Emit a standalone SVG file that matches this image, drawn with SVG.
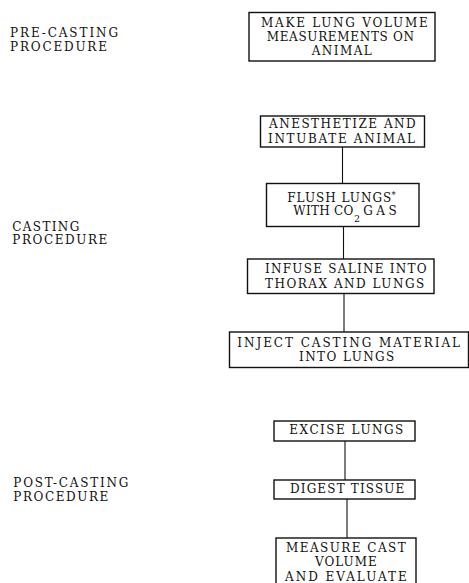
<svg xmlns="http://www.w3.org/2000/svg" width="469" height="583" viewBox="0 0 469 583">
<style>
.bx{fill:#fff;stroke:#111;stroke-width:1.4}
.ln{stroke:#111;stroke-width:1.1;fill:none}
text{font-family:"DejaVu Serif","Liberation Serif",serif;font-size:12px;fill:#111}
</style>
<rect width="469" height="583" fill="#fff"/>
<g id="labels">
<text x="10" y="36.7" textLength="108" lengthAdjust="spacing">PRE-CASTING</text>
<text x="10" y="50.7" textLength="97" lengthAdjust="spacing">PROCEDURE</text>
<text x="12.3" y="230.5" textLength="67" lengthAdjust="spacing">CASTING</text>
<text x="12.3" y="244" textLength="95" lengthAdjust="spacing">PROCEDURE</text>
<text x="13.3" y="487.3" textLength="115" lengthAdjust="spacing">POST-CASTING</text>
<text x="13.3" y="500.7" textLength="95" lengthAdjust="spacing">PROCEDURE</text>
</g>
<g id="connectors">
<line class="ln" x1="342.5" y1="147" x2="342.5" y2="183.5"/>
<line class="ln" x1="343.5" y1="227" x2="343.5" y2="259"/>
<line class="ln" x1="344" y1="293.5" x2="344" y2="332"/>
<line class="ln" x1="345" y1="441" x2="345" y2="480"/>
<line class="ln" x1="347" y1="499" x2="347" y2="538"/>
</g>
<g id="n1">
<rect class="bx" x="249" y="12.5" width="186" height="48.5"/>
<text x="261" y="27.3" textLength="166.7" lengthAdjust="spacing">MAKE LUNG VOLUME</text>
<text x="266.7" y="40.7" textLength="147.3" lengthAdjust="spacing">MEASUREMENTS ON</text>
<text x="311.7" y="55" textLength="60" lengthAdjust="spacing">ANIMAL</text>
</g>
<g id="n2">
<rect class="bx" x="260.5" y="116" width="164" height="31"/>
<text x="269" y="128.3" textLength="146.7" lengthAdjust="spacing">ANESTHETIZE AND</text>
<text x="268" y="142.7" textLength="147" lengthAdjust="spacing">INTUBATE ANIMAL</text>
</g>
<g id="n3">
<rect class="bx" x="266.5" y="183.5" width="152.5" height="43"/>
<text x="287.3" y="202.3" textLength="104" lengthAdjust="spacing">FLUSH LUNGS</text>
<text x="391.5" y="198" style="font-size:8.5px">*</text>
<text x="293.3" y="215" textLength="60" lengthAdjust="spacing">WITH CO</text>
<text x="354" y="221.5" style="font-size:9.5px">2</text>
<text x="363.3" y="215" textLength="33.4" lengthAdjust="spacing">GAS</text>
</g>
<g id="n4">
<rect class="bx" x="247.5" y="259" width="186.5" height="34.5"/>
<text x="265" y="273.3" textLength="161.7" lengthAdjust="spacing">INFUSE SALINE INTO</text>
<text x="265" y="288.3" textLength="159.3" lengthAdjust="spacing">THORAX AND LUNGS</text>
</g>
<g id="n5">
<rect class="bx" x="229.5" y="332" width="239" height="35.5"/>
<text x="237.3" y="346.7" textLength="222.7" lengthAdjust="spacing">INJECT CASTING MATERIAL</text>
<text x="299" y="361" textLength="95.3" lengthAdjust="spacing">INTO LUNGS</text>
</g>
<g id="n6">
<rect class="bx" x="274" y="421" width="141" height="20"/>
<text x="289.3" y="434.3" textLength="114" lengthAdjust="spacing">EXCISE LUNGS</text>
</g>
<g id="n7">
<rect class="bx" x="274" y="480" width="141" height="19"/>
<text x="290" y="493.3" textLength="114.3" lengthAdjust="spacing">DIGEST TISSUE</text>
</g>
<g id="n8">
<rect class="bx" x="276" y="538" width="140" height="52"/>
<text x="286" y="551.7" textLength="119.7" lengthAdjust="spacing">MEASURE CAST</text>
<text x="315" y="565.7" textLength="61.7" lengthAdjust="spacing">VOLUME</text>
<text x="285" y="580.7" textLength="121.7" lengthAdjust="spacing">AND EVALUATE</text>
</g>
</svg>
